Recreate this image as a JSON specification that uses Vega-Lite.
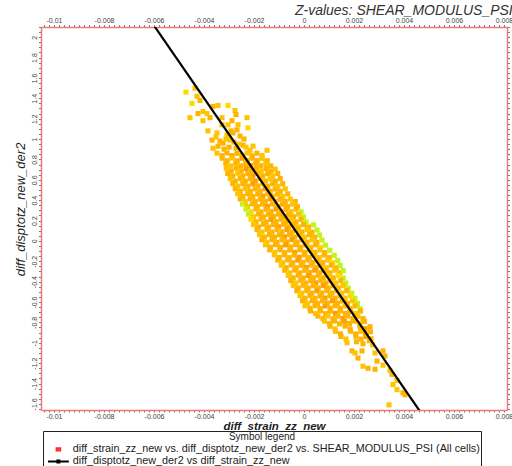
{
"$schema":"https://vega.github.io/schema/vega-lite/v6.json",
"width":466,"height":383,
"autosize":{"type":"none"},
"padding":{"left":41,"top":27,"right":5,"bottom":56},
"title":{"text":"Z-values: SHEAR_MODULUS_PSI","anchor":"end","fontStyle":"italic","fontSize":14,"fontWeight":"normal","font":"Liberation Sans","color":"#333","offset":-1},
"config":{"view":{"stroke":null},
 "axis":{"grid":false,"domainColor":"#f07878","domainWidth":1.5,"tickColor":"#777","tickSize":2.5,"tickWidth":1,"labelFont":"Liberation Sans","labelFontSize":7,"labelColor":"#444","labelOverlap":false,"labelFlush":false,"labelPadding":1,"titleFont":"Liberation Sans","titleColor":"#222","titleFontStyle":"italic","titleFontWeight":"normal","titleFontSize":13}},
"datasets":{
"cloud":[
{"x":-0.00472,"y":1.46,"z":4},{"x":-0.00436,"y":1.50,"z":3},{"x":-0.00428,"y":1.42,"z":3},{"x":-0.00416,"y":1.38,"z":2},{"x":-0.00448,"y":1.35,"z":4},{"x":-0.00456,"y":1.21,"z":3},{"x":-0.00404,"y":1.27,"z":3},{"x":-0.00424,"y":1.25,"z":2},{"x":-0.00388,"y":1.25,"z":3},{"x":-0.00364,"y":1.32,"z":2},{"x":-0.00344,"y":1.33,"z":3},{"x":-0.00304,"y":1.33,"z":4},{"x":-0.00276,"y":1.28,"z":3},{"x":-0.00272,"y":1.24,"z":2},{"x":-0.00328,"y":1.21,"z":3},{"x":-0.00376,"y":1.21,"z":2},{"x":-0.00404,"y":1.18,"z":3},{"x":-0.00384,"y":1.08,"z":3},{"x":-0.00368,"y":0.99,"z":2},{"x":-0.00348,"y":1.06,"z":3},{"x":-0.00328,"y":1.14,"z":2},{"x":-0.00304,"y":1.14,"z":3},{"x":-0.00288,"y":1.18,"z":2},{"x":-0.00264,"y":1.14,"z":3},{"x":-0.00268,"y":1.09,"z":2},{"x":-0.00228,"y":1.21,"z":3},{"x":-0.00224,"y":1.11,"z":4},{"x":-0.00284,"y":1.06,"z":2},{"x":-0.00308,"y":1.04,"z":3},{"x":-0.00364,"y":0.91,"z":3},{"x":-0.00344,"y":0.93,"z":2},{"x":-0.00324,"y":0.96,"z":2},{"x":-0.00296,"y":0.99,"z":3},{"x":-0.00256,"y":1.03,"z":2},{"x":-0.00244,"y":0.94,"z":2},{"x":-0.00216,"y":0.89,"z":3},{"x":-0.00148,"y":0.89,"z":3},{"x":-0.00336,"y":0.98,"z":2},{"x":-0.00312,"y":1.00,"z":3},{"x":-0.00280,"y":0.97,"z":2},{"x":-0.00260,"y":0.95,"z":3},{"x":-0.00300,"y":0.92,"z":2},{"x":-0.00272,"y":0.91,"z":2},{"x":-0.00232,"y":0.92,"z":3},{"x":-0.00320,"y":0.90,"z":2},{"x":-0.00204,"y":0.93,"z":3},{"x":-0.00240,"y":1.00,"z":2},{"x":-0.00352,"y":1.02,"z":3},{"x":-0.00292,"y":1.08,"z":2},
{"x":-0.00348,"y":0.862,"z":3},{"x":-0.00328,"y":0.837,"z":2},{"x":-0.00308,"y":0.864,"z":2},{"x":-0.00288,"y":0.835,"z":1},{"x":-0.00268,"y":0.860,"z":2},{"x":-0.00248,"y":0.839,"z":2},{"x":-0.00228,"y":0.863,"z":3},{"x":-0.00208,"y":0.836,"z":2},{"x":-0.00188,"y":0.861,"z":2},{"x":-0.00168,"y":0.838,"z":3},
{"x":-0.00327,"y":0.812,"z":2},{"x":-0.00307,"y":0.787,"z":2},{"x":-0.00287,"y":0.814,"z":3},{"x":-0.00267,"y":0.786,"z":2},{"x":-0.00247,"y":0.811,"z":1},{"x":-0.00227,"y":0.789,"z":2},{"x":-0.00207,"y":0.813,"z":2},{"x":-0.00187,"y":0.788,"z":2},{"x":-0.00167,"y":0.810,"z":3},{"x":-0.00147,"y":0.786,"z":2},
{"x":-0.00313,"y":0.762,"z":2},{"x":-0.00293,"y":0.737,"z":3},{"x":-0.00273,"y":0.764,"z":2},{"x":-0.00253,"y":0.736,"z":2},{"x":-0.00233,"y":0.761,"z":2},{"x":-0.00213,"y":0.739,"z":1},{"x":-0.00193,"y":0.763,"z":2},{"x":-0.00173,"y":0.738,"z":2},{"x":-0.00153,"y":0.760,"z":3},{"x":-0.00133,"y":0.737,"z":2},
{"x":-0.00311,"y":0.712,"z":3},{"x":-0.00291,"y":0.687,"z":2},{"x":-0.00271,"y":0.714,"z":2},{"x":-0.00251,"y":0.686,"z":2},{"x":-0.00231,"y":0.711,"z":1},{"x":-0.00211,"y":0.689,"z":2},{"x":-0.00191,"y":0.713,"z":2},{"x":-0.00171,"y":0.688,"z":3},{"x":-0.00151,"y":0.710,"z":2},{"x":-0.00131,"y":0.686,"z":2},{"x":-0.00115,"y":0.705,"z":3},
{"x":-0.00305,"y":0.662,"z":2},{"x":-0.00285,"y":0.637,"z":2},{"x":-0.00265,"y":0.664,"z":3},{"x":-0.00245,"y":0.636,"z":2},{"x":-0.00225,"y":0.661,"z":2},{"x":-0.00205,"y":0.639,"z":1},{"x":-0.00185,"y":0.663,"z":2},{"x":-0.00165,"y":0.638,"z":2},{"x":-0.00145,"y":0.660,"z":2},{"x":-0.00125,"y":0.637,"z":3},{"x":-0.00105,"y":0.662,"z":2},
{"x":-0.00295,"y":0.612,"z":3},{"x":-0.00275,"y":0.587,"z":2},{"x":-0.00255,"y":0.614,"z":2},{"x":-0.00235,"y":0.586,"z":2},{"x":-0.00215,"y":0.611,"z":2},{"x":-0.00195,"y":0.589,"z":1},{"x":-0.00175,"y":0.613,"z":2},{"x":-0.00155,"y":0.588,"z":2},{"x":-0.00135,"y":0.610,"z":3},{"x":-0.00115,"y":0.587,"z":2},{"x":-0.00095,"y":0.612,"z":2},
{"x":-0.00285,"y":0.562,"z":2},{"x":-0.00265,"y":0.537,"z":3},{"x":-0.00245,"y":0.564,"z":2},{"x":-0.00225,"y":0.536,"z":2},{"x":-0.00205,"y":0.561,"z":1},{"x":-0.00185,"y":0.539,"z":2},{"x":-0.00165,"y":0.563,"z":2},{"x":-0.00145,"y":0.538,"z":2},{"x":-0.00125,"y":0.560,"z":2},{"x":-0.00105,"y":0.537,"z":3},{"x":-0.00085,"y":0.562,"z":2},
{"x":-0.00275,"y":0.512,"z":2},{"x":-0.00255,"y":0.487,"z":2},{"x":-0.00235,"y":0.514,"z":3},{"x":-0.00215,"y":0.486,"z":2},{"x":-0.00195,"y":0.511,"z":2},{"x":-0.00175,"y":0.489,"z":2},{"x":-0.00155,"y":0.513,"z":1},{"x":-0.00135,"y":0.488,"z":2},{"x":-0.00115,"y":0.510,"z":2},{"x":-0.00095,"y":0.487,"z":2},{"x":-0.00075,"y":0.512,"z":3},
{"x":-0.00265,"y":0.462,"z":3},{"x":-0.00245,"y":0.437,"z":2},{"x":-0.00225,"y":0.464,"z":2},{"x":-0.00205,"y":0.436,"z":2},{"x":-0.00185,"y":0.461,"z":2},{"x":-0.00165,"y":0.439,"z":1},{"x":-0.00145,"y":0.463,"z":2},{"x":-0.00125,"y":0.438,"z":2},{"x":-0.00105,"y":0.460,"z":2},{"x":-0.00085,"y":0.437,"z":3},{"x":-0.00065,"y":0.462,"z":2},
{"x":-0.00255,"y":0.412,"z":2},{"x":-0.00235,"y":0.387,"z":3},{"x":-0.00215,"y":0.414,"z":2},{"x":-0.00195,"y":0.386,"z":2},{"x":-0.00175,"y":0.411,"z":2},{"x":-0.00155,"y":0.389,"z":2},{"x":-0.00135,"y":0.413,"z":1},{"x":-0.00115,"y":0.388,"z":2},{"x":-0.00095,"y":0.410,"z":2},{"x":-0.00075,"y":0.387,"z":2},{"x":-0.00055,"y":0.412,"z":3},{"x":-0.00035,"y":0.386,"z":2},
{"x":-0.00246,"y":0.362,"z":5},{"x":-0.00226,"y":0.337,"z":3},{"x":-0.00206,"y":0.364,"z":2},{"x":-0.00186,"y":0.336,"z":2},{"x":-0.00166,"y":0.361,"z":2},{"x":-0.00146,"y":0.339,"z":1},{"x":-0.00126,"y":0.363,"z":2},{"x":-0.00106,"y":0.338,"z":2},{"x":-0.00086,"y":0.360,"z":2},{"x":-0.00066,"y":0.337,"z":2},{"x":-0.00046,"y":0.362,"z":3},{"x":-0.00026,"y":0.336,"z":2},
{"x":-0.00232,"y":0.312,"z":5},{"x":-0.00212,"y":0.287,"z":4},{"x":-0.00192,"y":0.314,"z":2},{"x":-0.00172,"y":0.286,"z":2},{"x":-0.00152,"y":0.311,"z":2},{"x":-0.00132,"y":0.289,"z":2},{"x":-0.00112,"y":0.313,"z":1},{"x":-0.00092,"y":0.288,"z":2},{"x":-0.00072,"y":0.310,"z":2},{"x":-0.00052,"y":0.287,"z":3},{"x":-0.00032,"y":0.312,"z":2},{"x":-0.00012,"y":0.286,"z":5},
{"x":-0.00222,"y":0.262,"z":5},{"x":-0.00202,"y":0.237,"z":3},{"x":-0.00182,"y":0.264,"z":2},{"x":-0.00162,"y":0.236,"z":2},{"x":-0.00142,"y":0.261,"z":2},{"x":-0.00122,"y":0.239,"z":2},{"x":-0.00102,"y":0.263,"z":2},{"x":-0.00082,"y":0.238,"z":1},{"x":-0.00062,"y":0.260,"z":2},{"x":-0.00042,"y":0.237,"z":2},{"x":-0.00022,"y":0.262,"z":3},{"x":-0.00002,"y":0.236,"z":5},
{"x":-0.00212,"y":0.212,"z":4},{"x":-0.00192,"y":0.187,"z":2},{"x":-0.00172,"y":0.214,"z":2},{"x":-0.00152,"y":0.186,"z":2},{"x":-0.00132,"y":0.211,"z":1},{"x":-0.00112,"y":0.189,"z":2},{"x":-0.00092,"y":0.213,"z":2},{"x":-0.00072,"y":0.188,"z":2},{"x":-0.00052,"y":0.210,"z":3},{"x":-0.00032,"y":0.187,"z":2},{"x":-0.00012,"y":0.212,"z":2},{"x":0.00008,"y":0.186,"z":5},
{"x":-0.00202,"y":0.162,"z":3},{"x":-0.00182,"y":0.137,"z":2},{"x":-0.00162,"y":0.164,"z":2},{"x":-0.00142,"y":0.136,"z":2},{"x":-0.00122,"y":0.161,"z":2},{"x":-0.00102,"y":0.139,"z":1},{"x":-0.00082,"y":0.163,"z":2},{"x":-0.00062,"y":0.138,"z":2},{"x":-0.00042,"y":0.160,"z":2},{"x":-0.00022,"y":0.137,"z":3},{"x":-0.00002,"y":0.162,"z":2},{"x":0.00018,"y":0.136,"z":2},{"x":0.00038,"y":0.158,"z":5},
{"x":-0.00188,"y":0.112,"z":2},{"x":-0.00168,"y":0.087,"z":3},{"x":-0.00148,"y":0.114,"z":2},{"x":-0.00128,"y":0.086,"z":2},{"x":-0.00108,"y":0.111,"z":2},{"x":-0.00088,"y":0.089,"z":2},{"x":-0.00068,"y":0.113,"z":1},{"x":-0.00048,"y":0.088,"z":2},{"x":-0.00028,"y":0.110,"z":2},{"x":-0.00008,"y":0.087,"z":2},{"x":0.00012,"y":0.112,"z":3},{"x":0.00032,"y":0.086,"z":2},{"x":0.00052,"y":0.108,"z":5},
{"x":-0.00178,"y":0.062,"z":3},{"x":-0.00158,"y":0.037,"z":2},{"x":-0.00138,"y":0.064,"z":2},{"x":-0.00118,"y":0.036,"z":2},{"x":-0.00098,"y":0.061,"z":2},{"x":-0.00078,"y":0.039,"z":1},{"x":-0.00058,"y":0.063,"z":2},{"x":-0.00038,"y":0.038,"z":2},{"x":-0.00018,"y":0.060,"z":2},{"x":0.00002,"y":0.037,"z":3},{"x":0.00022,"y":0.062,"z":2},{"x":0.00042,"y":0.036,"z":2},{"x":0.00062,"y":0.058,"z":5},
{"x":-0.00168,"y":0.012,"z":2},{"x":-0.00148,"y":-0.013,"z":3},{"x":-0.00128,"y":0.014,"z":2},{"x":-0.00108,"y":-0.014,"z":2},{"x":-0.00088,"y":0.011,"z":2},{"x":-0.00068,"y":-0.011,"z":2},{"x":-0.00048,"y":0.013,"z":1},{"x":-0.00028,"y":-0.012,"z":2},{"x":-0.00008,"y":0.010,"z":2},{"x":0.00012,"y":-0.013,"z":2},{"x":0.00032,"y":0.012,"z":3},{"x":0.00052,"y":-0.014,"z":2},{"x":0.00072,"y":0.008,"z":5},
{"x":-0.00154,"y":-0.038,"z":3},{"x":-0.00134,"y":-0.063,"z":2},{"x":-0.00114,"y":-0.036,"z":2},{"x":-0.00094,"y":-0.064,"z":2},{"x":-0.00074,"y":-0.039,"z":1},{"x":-0.00054,"y":-0.061,"z":2},{"x":-0.00034,"y":-0.037,"z":2},{"x":-0.00014,"y":-0.062,"z":2},{"x":0.00006,"y":-0.040,"z":2},{"x":0.00026,"y":-0.063,"z":3},{"x":0.00046,"y":-0.038,"z":2},{"x":0.00066,"y":-0.064,"z":4},{"x":0.00086,"y":-0.042,"z":5},
{"x":-0.00137,"y":-0.088,"z":2},{"x":-0.00117,"y":-0.113,"z":3},{"x":-0.00097,"y":-0.086,"z":2},{"x":-0.00077,"y":-0.114,"z":2},{"x":-0.00057,"y":-0.089,"z":2},{"x":-0.00037,"y":-0.111,"z":1},{"x":-0.00017,"y":-0.087,"z":2},{"x":0.00003,"y":-0.112,"z":2},{"x":0.00023,"y":-0.090,"z":2},{"x":0.00043,"y":-0.113,"z":2},{"x":0.00063,"y":-0.088,"z":3},{"x":0.00083,"y":-0.114,"z":2},{"x":0.00103,"y":-0.092,"z":5},
{"x":-0.00119,"y":-0.138,"z":3},{"x":-0.00099,"y":-0.163,"z":2},{"x":-0.00079,"y":-0.136,"z":2},{"x":-0.00059,"y":-0.164,"z":2},{"x":-0.00039,"y":-0.139,"z":2},{"x":-0.00019,"y":-0.161,"z":1},{"x":0.00001,"y":-0.137,"z":2},{"x":0.00021,"y":-0.162,"z":2},{"x":0.00041,"y":-0.140,"z":2},{"x":0.00061,"y":-0.163,"z":3},{"x":0.00081,"y":-0.138,"z":2},{"x":0.00101,"y":-0.164,"z":2},{"x":0.00121,"y":-0.142,"z":5},
{"x":-0.00105,"y":-0.188,"z":2},{"x":-0.00085,"y":-0.213,"z":3},{"x":-0.00065,"y":-0.186,"z":2},{"x":-0.00045,"y":-0.214,"z":2},{"x":-0.00025,"y":-0.189,"z":1},{"x":-0.00005,"y":-0.211,"z":2},{"x":0.00015,"y":-0.187,"z":2},{"x":0.00035,"y":-0.212,"z":2},{"x":0.00055,"y":-0.190,"z":2},{"x":0.00075,"y":-0.213,"z":2},{"x":0.00095,"y":-0.188,"z":3},{"x":0.00115,"y":-0.214,"z":4},{"x":0.00135,"y":-0.192,"z":5},
{"x":-0.00091,"y":-0.238,"z":3},{"x":-0.00071,"y":-0.263,"z":2},{"x":-0.00051,"y":-0.236,"z":2},{"x":-0.00031,"y":-0.264,"z":2},{"x":-0.00011,"y":-0.239,"z":2},{"x":0.00009,"y":-0.261,"z":1},{"x":0.00029,"y":-0.237,"z":2},{"x":0.00049,"y":-0.262,"z":2},{"x":0.00069,"y":-0.240,"z":2},{"x":0.00089,"y":-0.263,"z":3},{"x":0.00109,"y":-0.238,"z":2},{"x":0.00129,"y":-0.264,"z":2},{"x":0.00145,"y":-0.242,"z":5},
{"x":-0.00077,"y":-0.288,"z":2},{"x":-0.00057,"y":-0.313,"z":3},{"x":-0.00037,"y":-0.286,"z":2},{"x":-0.00017,"y":-0.314,"z":2},{"x":0.00003,"y":-0.289,"z":2},{"x":0.00023,"y":-0.311,"z":2},{"x":0.00043,"y":-0.287,"z":1},{"x":0.00063,"y":-0.312,"z":2},{"x":0.00083,"y":-0.290,"z":2},{"x":0.00103,"y":-0.313,"z":2},{"x":0.00123,"y":-0.288,"z":3},{"x":0.00143,"y":-0.314,"z":2},{"x":0.00157,"y":-0.292,"z":5},
{"x":-0.00063,"y":-0.338,"z":3},{"x":-0.00043,"y":-0.363,"z":2},{"x":-0.00023,"y":-0.336,"z":2},{"x":-0.00003,"y":-0.364,"z":2},{"x":0.00017,"y":-0.339,"z":1},{"x":0.00037,"y":-0.361,"z":2},{"x":0.00057,"y":-0.337,"z":2},{"x":0.00077,"y":-0.362,"z":2},{"x":0.00097,"y":-0.340,"z":3},{"x":0.00117,"y":-0.363,"z":2},{"x":0.00137,"y":-0.338,"z":4},{"x":0.00157,"y":-0.364,"z":5},
{"x":-0.00053,"y":-0.388,"z":2},{"x":-0.00033,"y":-0.413,"z":3},{"x":-0.00013,"y":-0.386,"z":2},{"x":0.00007,"y":-0.414,"z":2},{"x":0.00027,"y":-0.389,"z":2},{"x":0.00047,"y":-0.411,"z":1},{"x":0.00067,"y":-0.387,"z":2},{"x":0.00087,"y":-0.412,"z":2},{"x":0.00107,"y":-0.390,"z":2},{"x":0.00127,"y":-0.413,"z":3},{"x":0.00147,"y":-0.388,"z":2},{"x":0.00167,"y":-0.414,"z":5},
{"x":-0.00043,"y":-0.438,"z":3},{"x":-0.00023,"y":-0.463,"z":2},{"x":-0.00003,"y":-0.436,"z":2},{"x":0.00017,"y":-0.464,"z":2},{"x":0.00037,"y":-0.439,"z":2},{"x":0.00057,"y":-0.461,"z":2},{"x":0.00077,"y":-0.437,"z":1},{"x":0.00097,"y":-0.462,"z":2},{"x":0.00117,"y":-0.440,"z":2},{"x":0.00137,"y":-0.463,"z":2},{"x":0.00157,"y":-0.438,"z":3},{"x":0.00177,"y":-0.464,"z":5},
{"x":-0.00029,"y":-0.488,"z":2},{"x":-0.00009,"y":-0.513,"z":3},{"x":0.00011,"y":-0.486,"z":2},{"x":0.00031,"y":-0.514,"z":2},{"x":0.00051,"y":-0.489,"z":1},{"x":0.00071,"y":-0.511,"z":2},{"x":0.00091,"y":-0.487,"z":2},{"x":0.00111,"y":-0.512,"z":2},{"x":0.00131,"y":-0.490,"z":2},{"x":0.00151,"y":-0.513,"z":3},{"x":0.00171,"y":-0.488,"z":2},{"x":0.00191,"y":-0.514,"z":5},
{"x":-0.00016,"y":-0.538,"z":3},{"x":0.00004,"y":-0.563,"z":2},{"x":0.00024,"y":-0.536,"z":2},{"x":0.00044,"y":-0.564,"z":2},{"x":0.00064,"y":-0.539,"z":2},{"x":0.00084,"y":-0.561,"z":1},{"x":0.00104,"y":-0.537,"z":2},{"x":0.00124,"y":-0.562,"z":2},{"x":0.00144,"y":-0.540,"z":2},{"x":0.00164,"y":-0.563,"z":3},{"x":0.00184,"y":-0.538,"z":4},{"x":0.00204,"y":-0.564,"z":5},
{"x":-0.00006,"y":-0.588,"z":2},{"x":0.00014,"y":-0.613,"z":3},{"x":0.00034,"y":-0.586,"z":2},{"x":0.00054,"y":-0.614,"z":2},{"x":0.00074,"y":-0.589,"z":2},{"x":0.00094,"y":-0.611,"z":2},{"x":0.00114,"y":-0.587,"z":1},{"x":0.00134,"y":-0.612,"z":2},{"x":0.00154,"y":-0.590,"z":2},{"x":0.00174,"y":-0.613,"z":2},{"x":0.00194,"y":-0.588,"z":3},{"x":0.00214,"y":-0.614,"z":5},
{"x":0.00004,"y":-0.638,"z":3},{"x":0.00024,"y":-0.663,"z":2},{"x":0.00044,"y":-0.636,"z":2},{"x":0.00064,"y":-0.664,"z":2},{"x":0.00084,"y":-0.639,"z":1},{"x":0.00104,"y":-0.661,"z":2},{"x":0.00124,"y":-0.637,"z":2},{"x":0.00144,"y":-0.662,"z":2},{"x":0.00164,"y":-0.640,"z":3},{"x":0.00184,"y":-0.663,"z":2},{"x":0.00204,"y":-0.638,"z":2},{"x":0.00224,"y":-0.664,"z":5},
{"x":0.00026,"y":-0.688,"z":2},{"x":0.00046,"y":-0.713,"z":3},{"x":0.00066,"y":-0.686,"z":2},{"x":0.00086,"y":-0.714,"z":2},{"x":0.00106,"y":-0.689,"z":2},{"x":0.00126,"y":-0.711,"z":1},{"x":0.00146,"y":-0.687,"z":2},{"x":0.00166,"y":-0.712,"z":2},{"x":0.00186,"y":-0.690,"z":2},{"x":0.00206,"y":-0.713,"z":3},{"x":0.00226,"y":-0.688,"z":2},
{"x":0.00056,"y":-0.738,"z":2},{"x":0.00076,"y":-0.763,"z":2},{"x":0.00096,"y":-0.736,"z":3},{"x":0.00116,"y":-0.764,"z":2},{"x":0.00136,"y":-0.739,"z":2},{"x":0.00156,"y":-0.761,"z":1},{"x":0.00176,"y":-0.737,"z":2},{"x":0.00196,"y":-0.762,"z":2},{"x":0.00216,"y":-0.740,"z":3},{"x":0.00236,"y":-0.763,"z":2},
{"x":0.00082,"y":-0.788,"z":3},{"x":0.00102,"y":-0.813,"z":2},{"x":0.00122,"y":-0.786,"z":2},{"x":0.00142,"y":-0.814,"z":2},{"x":0.00162,"y":-0.789,"z":1},{"x":0.00182,"y":-0.811,"z":2},{"x":0.00202,"y":-0.787,"z":2},{"x":0.00222,"y":-0.812,"z":3},{"x":0.00242,"y":-0.790,"z":2},
{"x":0.00104,"y":-0.838,"z":2},{"x":0.00124,"y":-0.863,"z":3},{"x":0.00164,"y":-0.836,"z":2},{"x":0.00184,"y":-0.864,"z":2},{"x":0.00224,"y":-0.839,"z":2},{"x":0.00244,"y":-0.861,"z":1},{"x":0.00264,"y":-0.842,"z":2},
{"x":0.00126,"y":-0.888,"z":3},{"x":0.00146,"y":-0.913,"z":2},{"x":0.00186,"y":-0.886,"z":2},{"x":0.00206,"y":-0.914,"z":2},{"x":0.00226,"y":-0.889,"z":3},{"x":0.00246,"y":-0.911,"z":2},{"x":0.00266,"y":-0.892,"z":2},
{"x":0.00148,"y":-0.938,"z":2},{"x":0.00168,"y":-0.963,"z":3},{"x":0.00208,"y":-0.936,"z":2},{"x":0.00228,"y":-0.964,"z":2},{"x":0.00248,"y":-0.939,"z":1},{"x":0.00268,"y":-0.961,"z":2},
{"x":0.00172,"y":-1.00,"z":3},{"x":0.00210,"y":-0.99,"z":2},{"x":0.00236,"y":-1.01,"z":2},{"x":0.00262,"y":-0.98,"z":2},{"x":0.00274,"y":-1.02,"z":3},
{"x":0.00192,"y":-1.08,"z":2},{"x":0.00236,"y":-1.23,"z":3},{"x":0.00292,"y":-1.18,"z":2},{"x":0.00372,"y":-1.37,"z":3},{"x":0.00404,"y":-1.51,"z":2},{"x":0.00356,"y":-1.41,"z":3},{"x":0.00316,"y":-1.08,"z":2},{"x":0.00284,"y":-1.26,"z":2},{"x":0.00340,"y":-1.61,"z":3},{"x":0.00204,"y":-1.10,"z":3},{"x":0.00232,"y":-1.08,"z":2},{"x":0.00216,"y":-1.15,"z":2},{"x":0.00284,"y":-1.10,"z":3},{"x":0.00324,"y":-1.13,"z":2},{"x":0.00316,"y":-1.22,"z":3},{"x":0.00256,"y":-1.25,"z":2},{"x":0.00344,"y":-1.27,"z":3},{"x":0.00352,"y":-1.31,"z":2},{"x":0.00372,"y":-1.46,"z":3},{"x":0.00396,"y":-1.49,"z":2}
],
"fit":[{"x":-0.0061,"y":2.150},{"x":0.0047,"y":-1.695}],
"key":[{"series":"diff_strain_zz_new vs. diff_disptotz_new_der2 vs. SHEAR_MODULUS_PSI (All cells)"},{"series":"diff_disptotz_new_der2 vs diff_strain_zz_new"}]
},
"layer":[
{"data":{"name":"cloud"},
 "mark":{"type":"square","size":26,"opacity":1,"filled":true,"strokeWidth":0},
 "encoding":{
  "x":{"field":"x","type":"quantitative","scale":{"domain":[-0.01052,0.00812],"nice":false,"zero":false},
   "axis":{"orient":"bottom","title":"diff_strain_zz_new","titleFontWeight":"bold","titleFontSize":11.5,"tickCount":90,"tickSize":2,"labelPadding":0,"titlePadding":1,
    "labelExpr":"abs(datum.value/0.002 - round(datum.value/0.002)) < 0.01 ? '' + round(datum.value*1000)/1000 : ''"}},
  "y":{"field":"y","type":"quantitative","scale":{"domain":[-1.66,2.10],"nice":false,"zero":false},
   "axis":{"orient":"left","title":"diff_disptotz_new_der2","tickCount":76,"labelAngle":270,"titlePadding":3,"titleY":182,
    "labelExpr":"abs(datum.value/0.2 - round(datum.value/0.2)) < 0.01 ? '' + round(datum.value*10)/10 : ''"}},
  "fill":{"field":"z","type":"quantitative","scale":{"domain":[1,2,3,4,5],"range":["#ffa000","#ffb400","#ffc400","#ffd800","#c4f31c"]},"legend":null}
 }},
{"data":{"name":"fit"},
 "mark":{"type":"line","color":"#000000","strokeWidth":2.2,"clip":true},
 "encoding":{
  "x":{"field":"x","type":"quantitative","scale":{"domain":[-0.01052,0.00812],"nice":false,"zero":false},
   "axis":{"orient":"top","title":null,"tickCount":90,
    "labelExpr":"abs(datum.value/0.002 - round(datum.value/0.002)) < 0.01 ? '' + round(datum.value*1000)/1000 : ''"}},
  "y":{"field":"y","type":"quantitative","scale":{"domain":[-1.66,2.10],"nice":false,"zero":false},
   "axis":{"orient":"right","title":null,"tickCount":76,"labels":false}}
 }},
{"data":{"name":"key"},
 "mark":{"type":"point","opacity":0,"filled":false,"strokeWidth":2},
 "encoding":{
  "color":{"field":"series","type":"nominal",
   "scale":{"domain":["diff_strain_zz_new vs. diff_disptotz_new_der2 vs. SHEAR_MODULUS_PSI (All cells)","diff_disptotz_new_der2 vs diff_strain_zz_new"],"range":["#ff2a2a","#000000"]},
   "legend":{"title":"Symbol legend","orient":"none","legendX":2,"legendY":404,"direction":"vertical","titleAnchor":"middle","titleFont":"Liberation Sans","titleFontSize":10,"titleFontWeight":"normal","titleColor":"#222","titlePadding":2,"labelFont":"Liberation Sans","labelFontSize":10.8,"labelColor":"#222","labelLimit":1000,"labelOffset":9,"symbolSize":64,"symbolOffset":9,"symbolStrokeWidth":2,"symbolOpacity":1,"padding":1,"rowPadding":0,"strokeColor":"#222","fillColor":"#ffffff"}},
  "shape":{"field":"series","type":"nominal",
   "scale":{"domain":["diff_strain_zz_new vs. diff_disptotz_new_der2 vs. SHEAR_MODULUS_PSI (All cells)","diff_disptotz_new_der2 vs diff_strain_zz_new"],"range":["M-0.45,-0.3H0.45V0.3H-0.45Z","M-2.6,0H2.6M-0.25,-0.25H0.25V0.25H-0.25Z"]}}
 }}
],
"resolve":{"axis":{"x":"independent","y":"independent"}}
}
